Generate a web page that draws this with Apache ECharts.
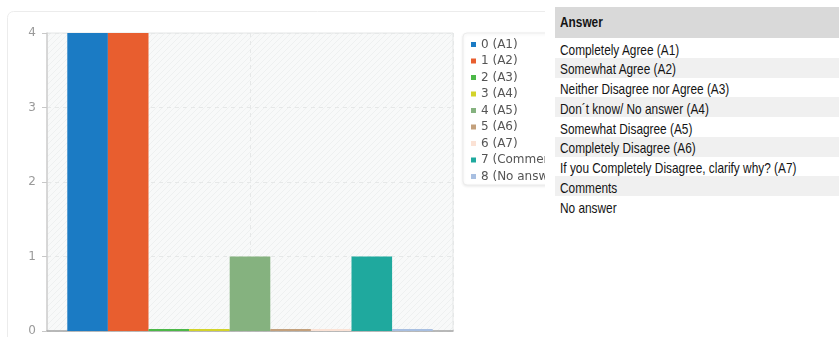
<!DOCTYPE html>
<html>
<head>
<meta charset="utf-8">
<script src="https://cdn.jsdelivr.net/npm/echarts@6/dist/echarts.min.js"></script>
<style>
  html, body { margin: 0; padding: 0; background: #fff; }
  #wrap { position: relative; width: 839px; height: 337px; overflow: hidden; }
  #chart { position: absolute; left: 0; top: 0; width: 839px; height: 337px; }
  #answers {
    position: absolute; left: 545px; top: 0; width: 294px; height: 337px;
    background: #fff; font-family: "Liberation Sans", Arial, sans-serif;
    color: #141414; font-size: 15px;
  }
  #answers table { position: absolute; left: 10px; top: 7px; width: 284px; border-collapse: collapse; }
  #answers th { background: #d9d9d9; height: 31px; text-align: left; vertical-align: top;
    padding: 4px 0 0 5px; box-sizing: border-box; font-weight: bold; }
  #answers td { height: 19.75px; padding: 0 0 0 5px; box-sizing: border-box; line-height: 19.75px; white-space: nowrap; }
  #answers tr.alt td { background: #f0f0f0; }
  #answers span { display: inline-block; transform: scaleX(0.79); transform-origin: 0 50%; position: relative; top: 1.5px; }
</style>
</head>
<body>
<div id="wrap">
  <div id="chart"></div>
  <div id="answers"></div>
</div>
<script>
// Answer categories shown in the legend, one bar series each
const categories = ['0 (A1)', '1 (A2)', '2 (A3)', '3 (A4)', '4 (A5)', '5 (A6)', '6 (A7)', '7 (Comments)', '8 (No answer)'];
// Number of responses per category
const values = [4, 4, 0, 0, 1, 0, 0, 1, 0];
// Bar colours per category
const colors = ['#1b7bc4', '#e85e2f', '#4cb848', '#d3d32a', '#85b27f', '#c3a07c', '#fbe2d5', '#1fa99e', '#a8bfe1'];
// Y axis ticks
const yTicks = [0, 1, 2, 3, 4];
// Answer key table
const answerHeader = 'Answer';
const answerRows = [
  'Completely Agree (A1)',
  'Somewhat Agree (A2)',
  'Neither Disagree nor Agree (A3)',
  'Don\u00b4t know/ No answer (A4)',
  'Somewhat Disagree (A5)',
  'Completely Disagree (A6)',
  'If you Completely Disagree, clarify why? (A7)',
  'Comments',
  'No answer'
];

// build the answer key table
(function () {
  let html = '<table><tr><th><span>' + answerHeader + '</span></th></tr>';
  answerRows.forEach((r, i) => {
    html += '<tr' + (i % 2 === 1 ? ' class="alt"' : '') + '><td><span>' + r + '</span></td></tr>';
  });
  html += '</table>';
  document.getElementById('answers').innerHTML = html;
})();

// faint diagonal hatching for the plot background
function hatch() {
  const c = document.createElement('canvas');
  c.width = 6; c.height = 6;
  const g = c.getContext('2d');
  g.fillStyle = '#f8f9f9';
  g.fillRect(0, 0, 6, 6);
  g.strokeStyle = '#eef0f0';
  g.lineWidth = 1;
  g.beginPath();
  g.moveTo(0, 6); g.lineTo(6, 0);
  g.moveTo(-3, 3); g.lineTo(3, -3);
  g.moveTo(3, 9); g.lineTo(9, 3);
  g.stroke();
  return c;
}

const chart = echarts.init(document.getElementById('chart'), null, { renderer: 'canvas' });

const series = categories.map((name, i) => ({
  name: name,
  type: 'bar',
  data: [values[i]],
  barGap: '0%',
  barCategoryGap: '10%',
  barMinHeight: 2,
  itemStyle: { color: colors[i] },
  emphasis: { disabled: true },
  animation: false
}));

chart.setOption({
  animation: false,
  color: colors,
  graphic: [{
    type: 'rect',
    left: 7, top: 11, z: -10,
    shape: { width: 620, height: 360, r: 6 },
    style: { fill: '#fff', stroke: '#ececec', lineWidth: 1 }
  }],
  grid: {
    left: 47, right: 386, top: 33, bottom: 4,
    show: true,
    backgroundColor: { image: hatch(), repeat: 'repeat' },
    borderColor: '#e4e6e6',
    borderWidth: 1
  },
  legend: {
    orient: 'vertical',
    left: 463, top: 33,
    padding: [5, 8, 2, 8],
    backgroundColor: '#fff',
    borderColor: '#ececec',
    borderWidth: 1,
    borderRadius: 4,
    shadowColor: 'rgba(0,0,0,0.08)',
    shadowBlur: 3,
    shadowOffsetY: 1,
    icon: 'rect',
    itemWidth: 5,
    itemHeight: 5,
    itemGap: 3.5,
    selectedMode: false,
    textStyle: { fontFamily: 'DejaVu Sans', fontSize: 12, color: '#555', lineHeight: 13 },
    data: categories
  },
  xAxis: [{
    type: 'category',
    data: [''],
    axisLine: { show: true, lineStyle: { color: '#a6a6a6', width: 1.5 } },
    axisTick: { show: false },
    axisLabel: { show: false },
    splitLine: { show: false }
  }, {
    type: 'value',
    min: 0, max: 2, interval: 1,
    position: 'bottom',
    axisLine: { show: false },
    axisTick: { show: false },
    axisLabel: { show: false },
    splitLine: { show: true, lineStyle: { color: '#e6e8e8', type: [4, 4], width: 1 } }
  }],
  yAxis: {
    type: 'value',
    min: yTicks[0], max: yTicks[yTicks.length - 1], interval: 1,
    axisLine: { show: true, lineStyle: { color: '#cfcfcf', width: 1.5 } },
    axisTick: { show: true, length: 5, lineStyle: { color: '#c8c8c8' } },
    axisLabel: { color: '#9a9a9a', fontFamily: 'DejaVu Sans', fontSize: 12, margin: 11 },
    splitLine: { show: true, lineStyle: { color: '#e6e8e8', type: [4, 4], width: 1 } }
  },
  series: series
});
</script>
</body>
</html>
